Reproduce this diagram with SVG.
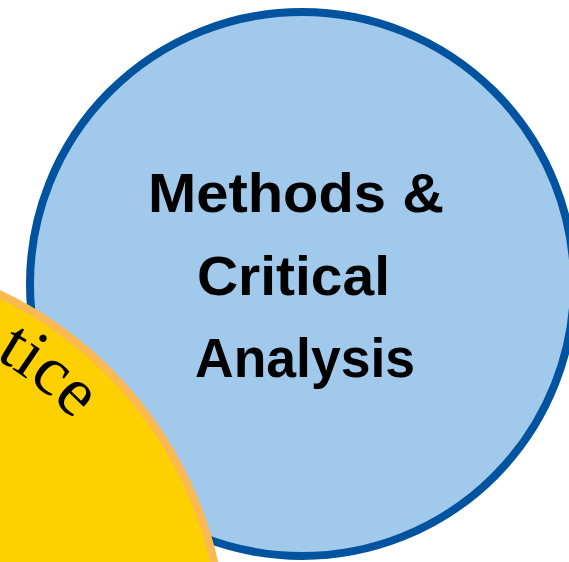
<svg xmlns="http://www.w3.org/2000/svg" width="569" height="562" viewBox="0 0 569 562">
<style>
.lbl{font-family:"Liberation Sans",Arial,sans-serif;font-weight:bold;font-size:56px;fill:#000}
.arc{font-family:"Liberation Serif","Times New Roman",serif;font-size:70px;fill:#000}
</style>
<defs>
<path id="yarc" d="M -505 650 A 335 335 0 0 1 165 650"/>
</defs>
<rect width="569" height="562" fill="#ffffff"/>
<g id="methods">
<circle cx="302" cy="284" r="272" fill="#a0c9ec" stroke="#00539f" stroke-width="8"/>
<text class="lbl" x="148" y="212" textLength="296" lengthAdjust="spacingAndGlyphs">Methods &amp;</text>
<text class="lbl" x="197" y="295" textLength="193" lengthAdjust="spacingAndGlyphs">Critical</text>
<text class="lbl" x="195" y="377" textLength="220" lengthAdjust="spacingAndGlyphs">Analysis</text>
</g>
<g id="practice">
<circle cx="-170" cy="650" r="394" fill="#ffd000" stroke="#fbb952" stroke-width="8"/>
<text class="arc"><textPath href="#yarc" startOffset="698">tice</textPath></text>
</g>
<g id="connectors"></g>
</svg>
